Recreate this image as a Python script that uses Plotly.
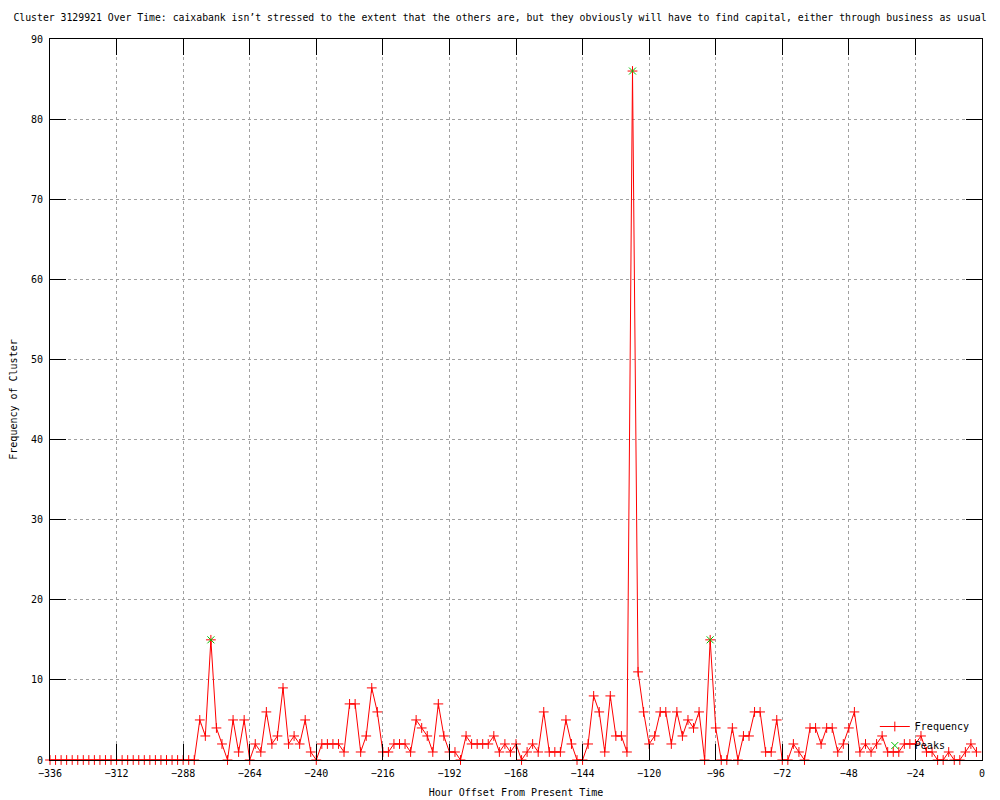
import plotly.graph_objects as go

# Hour offsets (every 2 hours) and cluster frequency
hours = list(range(-336, 0, 2))
frequency = [0] * 27 + [
    5, 3, 15, 4, 2, 0, 5, 1, 5, 0,        # -282 .. -264
    2, 1, 6, 2, 3, 9, 2, 3, 2, 5,         # -262 .. -244
    1, 0, 2, 2, 2, 2, 1, 7, 7, 1,         # -242 .. -224
    3, 9, 6, 1, 1, 2, 2, 2, 1, 5,         # -222 .. -204
    4, 3, 1, 7, 3, 1, 1, 0, 3, 2,         # -202 .. -184
    2, 2, 2, 3, 1, 2, 1, 2, 0, 1,         # -182 .. -164
    2, 1, 6, 1, 1, 1, 5, 2, 0, 0,         # -162 .. -144
    2, 8, 6, 1, 8, 3, 3, 1, 86, 11,       # -142 .. -124
    6, 2, 3, 6, 6, 2, 6, 3, 5, 4,         # -122 .. -104
    6, 0, 15, 4, 0, 0, 4, 0, 3, 3,        # -102 .. -84
    6, 6, 1, 1, 5, 0, 0, 2, 1, 0,         # -82 .. -64
    4, 4, 2, 4, 4, 1, 2, 4, 6, 1,         # -62 .. -44
    2, 1, 2, 3, 1, 1, 1, 2, 2, 2,         # -42 .. -24
    3, 1, 1, 0, 0, 1, 0, 0, 1, 2,         # -22 .. -4
    1,                                    # -2
]

peak_hours = [-278, -126, -98]
peak_values = [15, 86, 15]

x_ticks = list(range(-336, 1, 24))
y_ticks = list(range(0, 91, 10))

title_text = ("Cluster 3129921 Over Time: caixabank isn\u2019t stressed to the extent that the others are, "
              "but they obviously will have to find capital, either through business as usual")

FONT = "DejaVu Sans Mono"

fig = go.Figure()
fig.add_trace(go.Scatter(
    x=hours, y=frequency, name="Frequency", mode="lines+markers",
    line=dict(color="#ff0000", width=1),
    marker=dict(symbol="cross-thin", size=7, color="#ff0000",
                line=dict(color="#ff0000", width=1)),
    cliponaxis=False,
))
fig.add_trace(go.Scatter(
    x=peak_hours, y=peak_values, name="Peaks", mode="markers",
    marker=dict(symbol="x-thin", size=7, color="#00c000",
                line=dict(color="#00c000", width=1)),
    cliponaxis=False,
))

axis_common = dict(
    showline=True, linecolor="black", linewidth=1, mirror="ticks",
    ticks="inside", ticklen=16, tickcolor="black", tickwidth=1,
    showgrid=True, gridcolor="#a0a0a0", griddash="dot", gridwidth=1,
    zeroline=False, tickfont=dict(family=FONT, size=10, color="black"),
)

fig.update_xaxes(
    range=[-336, 0], tickvals=x_ticks,
    title=dict(text="Hour Offset From Present Time", font=dict(family=FONT, size=10, color="black"), standoff=10),
    ticklabelstandoff=4,
    **axis_common,
)
fig.update_yaxes(
    range=[0, 90], tickvals=y_ticks,
    title=dict(text="Frequency of Cluster", font=dict(family=FONT, size=10, color="black"), standoff=12),
    ticklabelstandoff=4,
    **axis_common,
)

# the page body adds an 8px offset, so margins are shifted to compensate
fig.update_layout(
    width=1000, height=800,
    margin=dict(l=42, r=26, t=31, b=48, autoexpand=False),
    paper_bgcolor="white", plot_bgcolor="white",
    font=dict(family=FONT, size=10, color="black"),
    title=dict(text=title_text, x=492 / 1000, xref="container", xanchor="center",
               y=1 - 10 / 800, yref="container", yanchor="middle",
               font=dict(family=FONT, size=9.8, color="black")),
    showlegend=True,
    legend=dict(x=0.885, y=0.0, xanchor="left", yanchor="bottom",
                bgcolor="rgba(0,0,0,0)", borderwidth=0,
                font=dict(family=FONT, size=10, color="black"),
                tracegroupgap=0, itemwidth=30),
)

fig.write_html("out.html")
